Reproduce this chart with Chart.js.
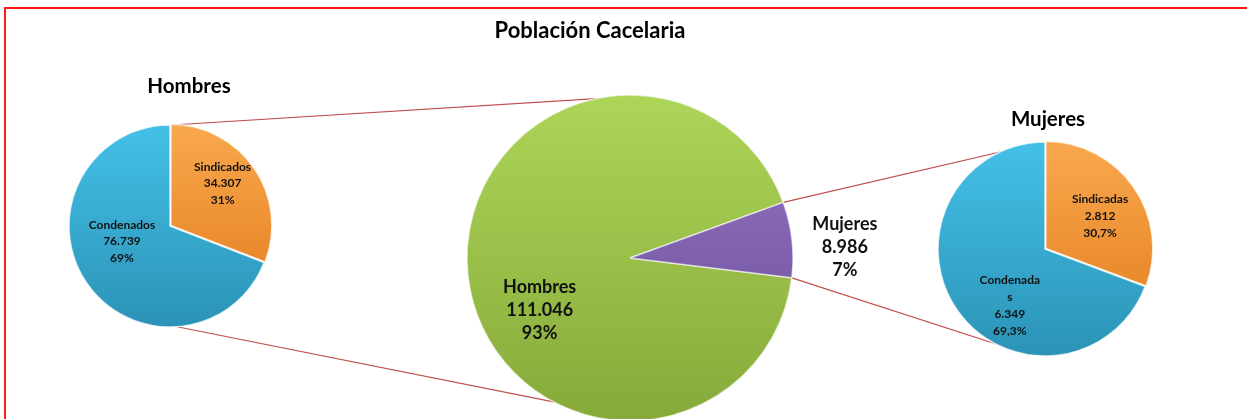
<!DOCTYPE html>
<html>
<head>
<meta charset="utf-8">
<script src="https://cdn.jsdelivr.net/npm/chart.js@4"></script>
<style>
    html, body { margin: 0; padding: 0; background: #ffffff; overflow: hidden; }
    #frame { position: relative; width: 1247px; height: 419px; overflow: hidden; background: #ffffff; }
    #frame .edge-top { position: absolute; left: 4px; top: 7px; width: 1243px; height: 2px; background: #ff1a1a; }
    #frame .edge-left { position: absolute; left: 4px; top: 7px; width: 2px; height: 412px; background: #ff1a1a; }
    .title { position: absolute; font-family: Lato, "Open Sans", sans-serif; font-weight: 700; color: #000; white-space: nowrap; transform: translate(-50%, -50%); }
    .box { position: absolute; }
    #lines { position: absolute; left: 0; top: 0; }
</style>
</head>
<body>
<div id="frame">
    <div class="edge-top"></div>
    <div class="edge-left"></div>
    <canvas id="lines" width="1247" height="419"></canvas>
    <div class="box" style="left:50px; top:106px; width:240px; height:240px;"><canvas id="graficaHombres"></canvas></div>
    <div class="box" style="left:380px; top:78px; width:500px; height:360px;"><canvas id="graficaTotal"></canvas></div>
    <div class="box" style="left:915px; top:119px; width:260px; height:260px;"><canvas id="graficaMujeres"></canvas></div>
    <div class="title" style="left:590px; top:29px; font-size:22px;">Población Cacelaria</div>
    <div class="title" style="left:189px; top:85px; font-size:20.5px;">Hombres</div>
    <div class="title" style="left:1048px; top:118px; font-size:20.5px;">Mujeres</div>
</div>
<script>
// Datos
const hombresLabels = ["Sindicados", "Condenados"];
const hombresValues = [34307, 76739];

const totalLabels = ["Hombres", "Mujeres"];
const totalValues = [111046, 8986];

const mujeresLabels = ["Sindicadas", "Condenada\ns"];
const mujeresValues = [2812, 6349];

// Colores (claro arriba, oscuro abajo)
const orange = ["#f9a84e", "#e17a1a"];
const blue = ["#44c0e8", "#2b93b6"];
const green = ["#add558", "#86aa3a"];
const purple = ["#9678c8", "#674891"];

function formatNumber(v) {
    return String(v).replace(/\B(?=(\d{3})+(?!\d))/g, ".");
}

function formatPercent(v, total, decimals) {
    return (v / total * 100).toFixed(decimals).replace(".", ",") + "%";
}

// Degradado vertical para cada sector (usa el área del gráfico)
function shade(pairs) {
    return function (ctx) {
        const chart = ctx.chart;
        const area = chart.chartArea;
        const pair = pairs[ctx.dataIndex];
        if (!area) return pair[0];
        const cy = (area.top + area.bottom) / 2;
        const r = chart.options.radius;
        const g = chart.ctx.createLinearGradient(0, cy - r, 0, cy + r);
        g.addColorStop(0, pair[0]);
        g.addColorStop(1, pair[1]);
        return g;
    };
}

// Plugin para etiquetas dentro o fuera de los sectores
const sliceLabels = {
    id: "sliceLabels",
    afterDraw(chart, args, opts) {
        const ctx = chart.ctx;
        const meta = chart.getDatasetMeta(0);
        const values = chart.data.datasets[0].data;
        const total = values.reduce((s, v) => s + v, 0);
        ctx.save();
        ctx.fillStyle = "#111111";
        ctx.textAlign = "center";
        ctx.textBaseline = "middle";
        ctx.font = "700 " + opts.size + "px Lato, 'Open Sans', sans-serif";
        meta.data.forEach((arc, i) => {
            const place = opts.places[i];
            const a = place[0] * Math.PI / 180;
            const r = arc.outerRadius * place[1];
            const x = arc.x + r * Math.sin(a);
            const y = arc.y - r * Math.cos(a);
            const lines = chart.data.labels[i].split("\n");
            lines.push(formatNumber(values[i]));
            lines.push(formatPercent(values[i], total, opts.decimals));
            const h = opts.lineHeight;
            const y0 = y - (lines.length - 1) * h / 2;
            lines.forEach((t, k) => ctx.fillText(t, x, y0 + k * h));
        });
        ctx.restore();
    }
};

function pieOptions(radius, rotation, labelOpts) {
    return {
        responsive: true,
        maintainAspectRatio: false,
        animation: false,
        radius: radius,
        rotation: rotation,
        layout: { padding: 0 },
        plugins: {
            legend: { display: false },
            tooltip: { enabled: false },
            sliceLabels: labelOpts
        }
    };
}

const hombresChart = new Chart(document.getElementById("graficaHombres"), {
    type: "pie",
    data: {
        labels: hombresLabels,
        datasets: [{
            data: hombresValues,
            backgroundColor: shade([orange, blue]),
            borderColor: "rgba(255,255,255,0.75)",
            borderWidth: 1.5,
            offset: [4, 0]
        }]
    },
    options: pieOptions(101, 0, { size: 12, lineHeight: 16.5, decimals: 0, places: [[51, 0.67], [252, 0.5]] }),
    plugins: [sliceLabels]
});

const totalChart = new Chart(document.getElementById("graficaTotal"), {
    type: "pie",
    data: {
        labels: totalLabels,
        datasets: [{
            data: totalValues,
            backgroundColor: shade([green, purple]),
            borderColor: "rgba(255,255,255,0.6)",
            borderWidth: 1.5
        }]
    },
    options: pieOptions(163, 97, { size: 18, lineHeight: 23, decimals: 0, places: [[240, 0.64], [87, 1.32]] }),
    plugins: [sliceLabels]
});

const mujeresChart = new Chart(document.getElementById("graficaMujeres"), {
    type: "pie",
    data: {
        labels: mujeresLabels,
        datasets: [{
            data: mujeresValues,
            backgroundColor: shade([orange, blue]),
            borderColor: "rgba(255,255,255,0.75)",
            borderWidth: 1.5,
            offset: [4, 0]
        }]
    },
    options: pieOptions(107, 0, { size: 12, lineHeight: 17, decimals: 1, places: [[59, 0.6], [212, 0.62]] }),
    plugins: [sliceLabels]
});

// Líneas de conexión entre los gráficos
function pagePoint(chart, arc, clockDeg) {
    const rect = chart.canvas.getBoundingClientRect();
    const a = clockDeg * Math.PI / 180;
    return [rect.left + arc.x + arc.outerRadius * Math.sin(a), rect.top + arc.y - arc.outerRadius * Math.cos(a)];
}

function arcPoint(chart, arc, rad) {
    const rect = chart.canvas.getBoundingClientRect();
    return [rect.left + arc.x + arc.outerRadius * Math.cos(rad), rect.top + arc.y + arc.outerRadius * Math.sin(rad)];
}

const hArc = hombresChart.getDatasetMeta(0).data[1];
const tArc = totalChart.getDatasetMeta(0).data[0];
const mujArcTotal = totalChart.getDatasetMeta(0).data[1];
const mArc = mujeresChart.getDatasetMeta(0).data[1];

const segments = [
    [pagePoint(hombresChart, hArc, 1), pagePoint(totalChart, tArc, 348)],
    [pagePoint(hombresChart, hArc, 176), pagePoint(totalChart, tArc, 208)],
    [arcPoint(totalChart, mujArcTotal, mujArcTotal.startAngle), pagePoint(mujeresChart, mArc, 359)],
    [arcPoint(totalChart, mujArcTotal, mujArcTotal.endAngle), pagePoint(mujeresChart, mArc, 188)]
];

const lc = document.getElementById("lines").getContext("2d");
lc.strokeStyle = "#c0504d";
lc.lineWidth = 1.2;
segments.forEach(s => {
    lc.beginPath();
    lc.moveTo(s[0][0], s[0][1]);
    lc.lineTo(s[1][0], s[1][1]);
    lc.stroke();
});
</script>
</body>
</html>
